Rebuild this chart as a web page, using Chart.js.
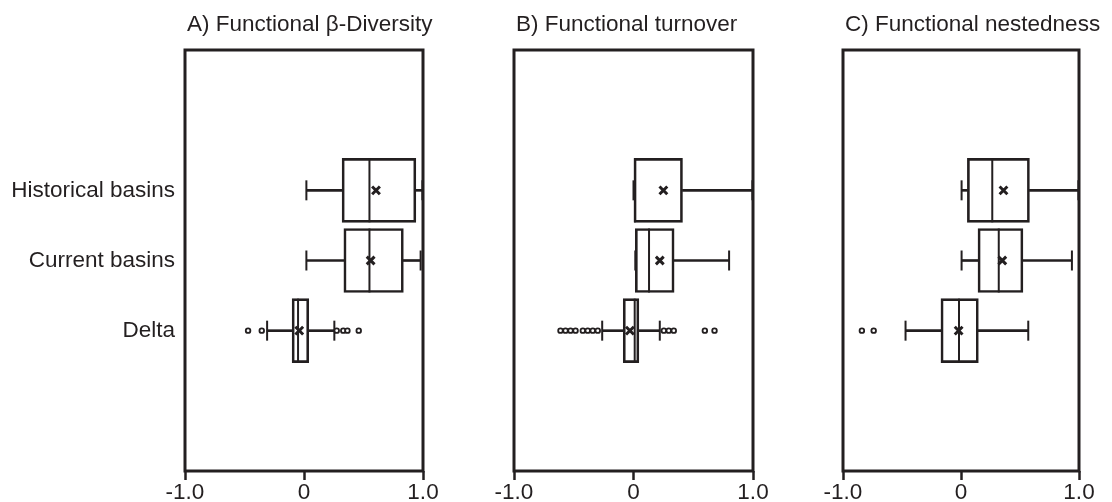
<!DOCTYPE html>
<html>
<head>
<meta charset="utf-8">
<script src="https://cdn.jsdelivr.net/npm/chart.js@4.4.1/dist/chart.umd.min.js"></script>
<style>
  body { margin: 0; background: #fff; }
  #wrap { position: relative; width: 1112px; height: 502px; }
  canvas { position: absolute; top: 0; }
</style>
</head>
<body>
<div id="wrap">
  <canvas id="panelA" width="450" height="502" style="left:0px"></canvas>
  <canvas id="panelB" width="330" height="502" style="left:450px"></canvas>
  <canvas id="panelC" width="332" height="502" style="left:780px"></canvas>
</div>
<script>
// categories and tick values
const categories = ["Historical basins", "Current basins", "Delta"];
const xTicks = [-1, 0, 1];

// A) Functional beta-diversity
const betaMin = [0.02, 0.02, -0.31];
const betaQ1 = [0.32, 0.335, -0.10];
const betaMedian = [0.55, 0.55, -0.05];
const betaQ3 = [0.94, 0.835, 0.04];
const betaMax = [0.995, 0.98, 0.255];
const betaMean = [0.605, 0.56, -0.04];
const betaOutliers = [[], [], [-0.47, -0.355, 0.275, 0.33, 0.365, 0.46]];

// B) Functional turnover
const turnMin = [0.0, 0.015, -0.262];
const turnQ1 = [0.0, 0.015, -0.086];
const turnMedian = [0.012, 0.13, 0.01];
const turnQ3 = [0.41, 0.34, 0.045];
const turnMax = [0.995, 0.80, 0.22];
const turnMean = [0.25, 0.22, -0.03];
const turnOutliers = [[], [], [-0.611, -0.569, -0.527, -0.485, -0.424, -0.383, -0.341, -0.299, 0.254, 0.295, 0.337, 0.597, 0.678]];

// C) Functional nestedness
const nestMin = [0.005, 0.005, -0.47];
const nestQ1 = [0.054, 0.144, -0.17];
const nestMedian = [0.265, 0.32, -0.017];
const nestQ3 = [0.58, 0.525, 0.147];
const nestMax = [0.995, 0.94, 0.57];
const nestMean = [0.36, 0.35, -0.02];
const nestOutliers = [[], [], [-0.84, -0.74]];

const ink = "#231f20";
const fontFamily = "'Liberation Sans', Arial, sans-serif";
const yLabels = ["", "", ...categories, "", ""];

Chart.defaults.font.family = fontFamily;
Chart.defaults.color = ink;

// box frame round the plot area
const framePlugin = {
  id: "frame",
  afterDatasetsDraw(chart) {
    const { ctx, chartArea: a } = chart;
    ctx.save();
    ctx.strokeStyle = ink;
    ctx.lineWidth = 3;
    ctx.strokeRect(a.left, a.top, a.right - a.left, a.bottom - a.top);
    ctx.restore();
  },
};

// panel title, left aligned on the frame and never squeezed
const titlePlugin = {
  id: "panelTitle",
  afterDraw(chart, args, opts) {
    const { ctx, chartArea: a } = chart;
    ctx.save();
    ctx.font = "22.5px " + fontFamily;
    ctx.fillStyle = ink;
    ctx.textAlign = "left";
    ctx.textBaseline = "alphabetic";
    ctx.fillText(opts.text, a.left + 2, 31);
    ctx.restore();
  },
};

function buildPanel(canvasId, title, s, axisWidth, padRight, showCats) {
  const ctx = document.getElementById(canvasId).getContext("2d");

  const caps = [];
  categories.forEach((c, i) => {
    caps.push({ x: s.min[i], y: c });
    caps.push({ x: s.max[i], y: c });
  });
  const outliers = [];
  s.out.forEach((list, i) => list.forEach((v) => outliers.push({ x: v, y: categories[i] })));

  new Chart(ctx, {
    type: "bar",
    data: {
      labels: yLabels,
      datasets: [
        {
          label: "mean",
          type: "scatter",
          data: s.mean.map((v, i) => ({ x: v, y: categories[i] })),
          pointStyle: "crossRot",
          radius: 5.5,
          borderWidth: 3,
          borderColor: ink,
          order: 1,
        },
        {
          label: "outliers",
          type: "scatter",
          data: outliers,
          pointStyle: "circle",
          radius: 2.3,
          borderWidth: 1.8,
          borderColor: ink,
          backgroundColor: "#fff",
          order: 2,
        },
        {
          label: "median",
          type: "scatter",
          data: s.median.map((v, i) => ({ x: v, y: categories[i] })),
          pointStyle: "line",
          rotation: 90,
          radius: 32,
          borderWidth: 2,
          borderColor: ink,
          order: 3,
        },
        {
          label: "caps",
          type: "scatter",
          data: caps,
          pointStyle: "line",
          rotation: 90,
          radius: 10,
          borderWidth: 2,
          borderColor: ink,
          order: 3,
        },
        {
          label: "lower whisker",
          data: s.min.map((v, i) => ({ x: [v, s.q1[i]], y: categories[i] })),
          backgroundColor: ink,
          borderWidth: 0,
          barThickness: 2,
          grouped: false,
          order: 4,
        },
        {
          label: "upper whisker",
          data: s.max.map((v, i) => ({ x: [s.q3[i], v], y: categories[i] })),
          backgroundColor: ink,
          borderWidth: 0,
          barThickness: 2,
          grouped: false,
          order: 4,
        },
        {
          label: "box",
          data: s.q1.map((v, i) => ({ x: [v, s.q3[i]], y: categories[i] })),
          backgroundColor: "rgba(255,255,255,0)",
          borderColor: ink,
          borderWidth: 2,
          borderSkipped: false,
          barThickness: 64,
          grouped: false,
          order: 5,
        },
      ],
    },
    options: {
      indexAxis: "y",
      responsive: false,
      animation: false,
      events: [],
      layout: { autoPadding: false, padding: { top: 50, left: 0, right: padRight, bottom: 0 } },
      plugins: {
        legend: { display: false },
        tooltip: { enabled: false },
        title: { display: false },
        panelTitle: { text: title },
      },
      scales: {
        x: {
          type: "linear",
          min: -1,
          max: 1,
          afterBuildTicks: (scale) => {
            scale.ticks = xTicks.map((v) => ({ value: v }));
          },
          ticks: {
            callback: (v) => (v === 0 ? "0" : v.toFixed(1)),
            color: ink,
            font: { size: 22.5 },
            padding: -1,
            maxRotation: 0,
            autoSkip: false,
          },
          grid: {
            drawOnChartArea: false,
            drawTicks: true,
            tickLength: 9,
            tickWidth: 2.5,
            tickColor: ink,
          },
          border: { display: false },
          afterFit: (scale) => {
            scale.height = 31;
            scale.paddingLeft = 0;
            scale.paddingRight = 0;
          },
        },
        y: {
          type: "category",
          offset: false,
          ticks: {
            display: showCats,
            color: ink,
            font: { size: 22.5 },
            padding: 10,
            autoSkip: false,
          },
          grid: { display: false, drawTicks: false },
          border: { display: false },
          afterFit: (scale) => {
            scale.width = axisWidth;
            scale.paddingTop = 0;
            scale.paddingBottom = 0;
          },
        },
      },
    },
    plugins: [framePlugin, titlePlugin],
  });
}

buildPanel("panelA", "A) Functional \u03b2-Diversity",
  { min: betaMin, q1: betaQ1, median: betaMedian, q3: betaQ3, max: betaMax, mean: betaMean, out: betaOutliers },
  185, 27, true);
buildPanel("panelB", "B) Functional turnover",
  { min: turnMin, q1: turnQ1, median: turnMedian, q3: turnQ3, max: turnMax, mean: turnMean, out: turnOutliers },
  64, 27, false);
buildPanel("panelC", "C) Functional nestedness",
  { min: nestMin, q1: nestQ1, median: nestMedian, q3: nestQ3, max: nestMax, mean: nestMean, out: nestOutliers },
  63, 33, false);
</script>
</body>
</html>
